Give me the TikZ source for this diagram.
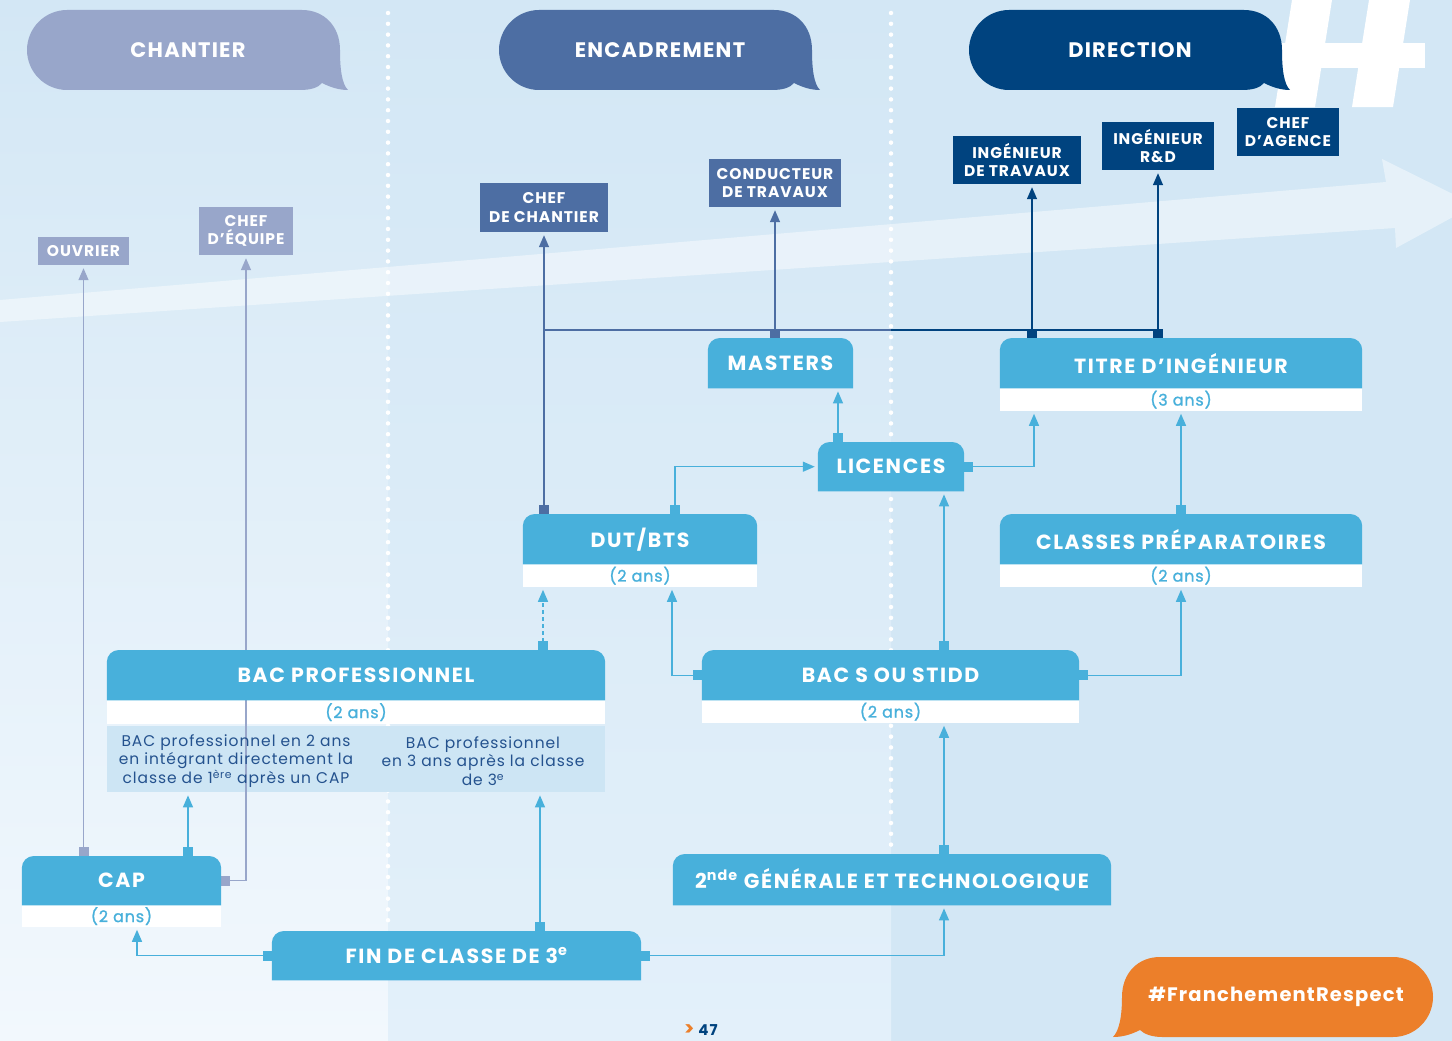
\documentclass[tikz,border=0pt]{standalone}
\usepackage{fontspec}
\setmainfont{Poppins}[LetterSpace=6]
\newfontfamily\cfam{Poppins}[LetterSpace=8]
\newfontfamily\mfam{Poppins}[LetterSpace=5,FakeBold=1.2]
\usetikzlibrary{arrows.meta,calc}
\definecolor{cb}{HTML}{48B0DB}
\definecolor{lav}{HTML}{98A6CA}
\definecolor{mb}{HTML}{4D6EA3}
\definecolor{db}{HTML}{00437F}
\definecolor{org}{HTML}{EC7F2A}
\definecolor{pan}{HTML}{CDE5F4}
\definecolor{ptxt}{HTML}{24528E}
\definecolor{bga}{HTML}{D3E7F5}
\definecolor{bgl}{HTML}{F2F8FD}
\definecolor{bgm}{HTML}{E3F0FA}
\pgfdeclarelayer{bg}
\pgfdeclarelayer{under}
\pgfdeclarelayer{lines}
\pgfdeclarelayer{boxes}
\pgfsetlayers{bg,under,lines,boxes,main}
\newcommand\hfnt{\fontsize{21}{25}\selectfont\bfseries}
\newcommand\jobf{\fontsize{15.5}{18.5}\selectfont\bfseries}
\newcommand\cfnt{\cfam\fontsize{20.5}{24}\selectfont\bfseries}
\newcommand\dfnt{\mfam\fontsize{16}{20}\selectfont}
\newcommand\pfnt{\fontsize{15.5}{18.7}\selectfont}
\newcommand\hbubble[3]{%
\fill[#3] (#1+40,10) -- (#2-38,10) .. controls (#2-16,10) and (#2,26) .. (#2,50)
 .. controls (#2,70) and (#2+2,84) .. (#2+8,90)
 .. controls (#2,90) and (#2-8,88) .. (#2-18,83)
 .. controls (#2-22,88) and (#2-30,90) .. (#2-40,90) -- (#1+40,90)
 .. controls (#1+18,90) and (#1,72) .. (#1,50)
 .. controls (#1,28) and (#1+18,10) .. (#1+40,10) -- cycle;}
\newcommand\cbox[6]{%
\node[ctext, minimum width=#4pt, minimum height=#5pt, anchor=north] (#1) at (#2,#3) {#6};
\begin{pgfonlayer}{boxes}
\fill[cb] (#1.south west) [rounded corners=12pt] -- (#1.north west) -- (#1.north east) [sharp corners] -- (#1.south east) -- cycle;
\end{pgfonlayer}}
\newcommand\dstrip[5]{%
\node[dtext, minimum width=#3pt, minimum height=#4pt, anchor=north] (#1) at (#2.south) {#5};
\begin{pgfonlayer}{under}
\fill[white] (#1.south west) rectangle (#1.north east);
\end{pgfonlayer}}
\tikzset{
 conn/.style={line width=1.4pt, {Square[length=9pt,width=10pt]}-{Triangle[length=12pt,width=10pt]}, shorten >=3pt},
 hline/.style={line width=1.4pt},
 job/.style={inner sep=0pt, align=center, text=white, font=\jobf},
 ctext/.style={inner sep=0pt, text=white, font=\cfnt},
 dtext/.style={inner sep=0pt, text=cb, font=\dfnt},
 ptext/.style={inner sep=0pt, align=center, text=ptxt, font=\pfnt},
 sep/.style={white, line width=4.5pt, line cap=round, dash pattern=on 0pt off 10.8pt},
}
\begin{document}
\begin{tikzpicture}[x=1pt,y=-1pt]
\useasboundingbox (0,0) rectangle (1452,1041);
% background
\begin{pgfonlayer}{bg}
\fill[bga] (0,0) rectangle (1452,1041);
\shade[top color=bga, bottom color=bgl] (0,0) rectangle (388,1041);
\shade[top color=bga, bottom color=bgm] (388,0) rectangle (891,1041);
\fill[white, opacity=0.45] (0,300) -- (1386,182) -- (1382,159) -- (1475,205) -- (1396,248) -- (1395,228) -- (0,322) -- cycle;
\fill[white] (1275,107) -- (1292,0) -- (1332,0) -- (1315,107) -- cycle;
\fill[white] (1352,107) -- (1369,0) -- (1410,0) -- (1393,107) -- cycle;
\fill[white] (1265,43) rectangle (1425,68);
\draw[sep] (388,13) -- (388,925);
\draw[sep] (891,13) -- (891,850);
\end{pgfonlayer}
% header bubbles
\hbubble{27}{340}{lav}
\hbubble{499}{812}{mb}
\hbubble{969}{1282}{db}
\node[font=\hfnt, text=white] (hch) at (188,50) {CHANTIER};
\node[font=\hfnt, text=white] (hen) at (660,50) {ENCADREMENT};
\node[font=\hfnt, text=white] (hdi) at (1130,50) {DIRECTION};
% job boxes
\node[job, fill=lav, minimum width=91pt, minimum height=28pt] (ouv) at (83.5,251) {OUVRIER};
\node[job, fill=lav, minimum width=94pt, minimum height=48pt] (cheq) at (246,231) {CHEF\\D’ÉQUIPE};
\node[job, fill=mb, minimum width=128pt, minimum height=49pt] (chch) at (544,207.5) {CHEF\\DE CHANTIER};
\node[job, fill=mb, minimum width=132pt, minimum height=48pt] (cond) at (775,183) {CONDUCTEUR\\DE TRAVAUX};
\node[job, fill=db, minimum width=128pt, minimum height=48pt] (ingt) at (1017,160) {INGÉNIEUR\\DE TRAVAUX};
\node[job, fill=db, minimum width=112pt, minimum height=48pt] (ingr) at (1158,146) {INGÉNIEUR\\R\&D};
\node[job, fill=db, minimum width=102pt, minimum height=48pt] (chag) at (1288,132) {CHEF\\D’AGENCE};
% course boxes
\cbox{mast}{780.5}{338}{145}{50}{MASTERS}
\cbox{tit}{1181}{338}{362}{50}{TITRE D’INGÉNIEUR}
\dstrip{titd}{tit}{362}{22}{(3 ans)}
\cbox{lic}{891}{442}{146}{49}{LICENCES}
\cbox{dut}{640}{514}{234}{50}{DUT/BTS}
\dstrip{dutd}{dut}{234}{22}{(2 ans)}
\cbox{prep}{1181}{514}{362}{50}{CLASSES PRÉPARATOIRES}
\dstrip{prepd}{prep}{362}{22}{(2 ans)}
\cbox{bacp}{356}{650}{498}{50}{BAC PROFESSIONNEL}
\dstrip{bacpd}{bacp}{498}{23}{(2 ans)}
\node[inner sep=0pt, minimum width=498pt, minimum height=66pt, anchor=north] (bacpp) at (356,726) {};
\begin{pgfonlayer}{under}
\fill[pan] (bacpp.south west) rectangle (bacpp.north east);
\end{pgfonlayer}
\node[ptext] (pl) at (236,761) {BAC professionnel en 2 ans\\en intégrant directement la\\classe de 1\textsuperscript{ère} après un CAP};
\node[ptext] (pr) at (483,761) {BAC professionnel\\en 3 ans après la classe\\de 3\textsuperscript{e}};
\cbox{bacs}{890.5}{650}{377}{50}{BAC S OU STIDD}
\dstrip{bacsd}{bacs}{377}{22}{(2 ans)}
\cbox{snd}{892}{854}{438}{51}{2\textsuperscript{nde} GÉNÉRALE ET TECHNOLOGIQUE}
\cbox{cap}{121.5}{856}{199}{49}{CAP}
\dstrip{capd}{cap}{199}{21}{(2 ans)}
\cbox{fin}{456.5}{931}{369}{49}{FIN DE CLASSE DE 3\textsuperscript{e}}
% connectors
\coordinate (hj) at (891,330);
\begin{pgfonlayer}{lines}
\draw[conn, lav] (cap.north -| ouv.south) -- (ouv.south);
\draw[conn, lav] (cap.east) -| (cheq.south);
\draw[conn, cb] (cap.north -| 188,0) -- (bacpp.south -| 188,0);
\draw[conn, cb] (fin.west) -| (capd.south -| 137,0);
\draw[conn, cb] (fin.north -| 540,0) -- (bacpp.south -| 540,0);
\draw[conn, cb] (fin.east) -| (snd.south -| 944,0);
\draw[conn, cb] (snd.north -| 944,0) -- (bacsd.south -| 944,0);
\draw[conn, cb] (bacs.north -| 944,0) -- (lic.south -| 944,0);
\draw[conn, cb] (bacs.west) -| (dutd.south -| 672,0);
\draw[conn, cb] (bacs.east) -| (prepd.south);
\draw[conn, cb, dash pattern=on 4pt off 3pt] (bacp.north -| 543,0) -- (dutd.south -| 543,0);
\draw[conn, cb] (dut.north -| 675,0) |- (lic.west);
\draw[conn, cb] (lic.north -| 838,0) -- (mast.south -| 838,0);
\draw[conn, cb] (lic.east) -| (titd.south -| 1034,0);
\draw[conn, cb] (prep.north) -- (titd.south);
\draw[conn, mb] (dut.north -| chch.south) -- (chch.south);
\draw[conn, mb] (mast.north -| cond.south) -- (cond.south);
\draw[hline, mb] (chch.south |- hj) -- (hj);
\draw[hline, db] (hj) -- (ingr.south |- hj);
\draw[conn, db] (tit.north -| 1032,0) -- (ingt.south -| 1032,0);
\draw[conn, db] (tit.north -| ingr.south) -- (ingr.south);
\end{pgfonlayer}
% orange bubble
\fill[org] (1393,957) .. controls (1415,957) and (1433,975) .. (1433,997)
 .. controls (1433,1019) and (1415,1037) .. (1393,1037) -- (1162,1037)
 .. controls (1152,1037) and (1144,1034) .. (1140,1030)
 .. controls (1130,1035) and (1122,1037) .. (1113,1037)
 .. controls (1119,1031) and (1122,1017) .. (1122,997)
 .. controls (1122,973) and (1138,957) .. (1160,957) -- cycle;
\node[font=\fontsize{19.5}{23}\selectfont\bfseries, text=white] (tag) at (1276,997) {\#FranchementRespect};
\node[font=\fontsize{15}{16}\selectfont\bfseries, anchor=base west, inner sep=0pt] (pg) at (684,1035) {\textcolor{org}{\fontsize{19}{19}\selectfont >}\hspace{4pt}\textcolor{db}{47}};
\end{tikzpicture}
\end{document}
